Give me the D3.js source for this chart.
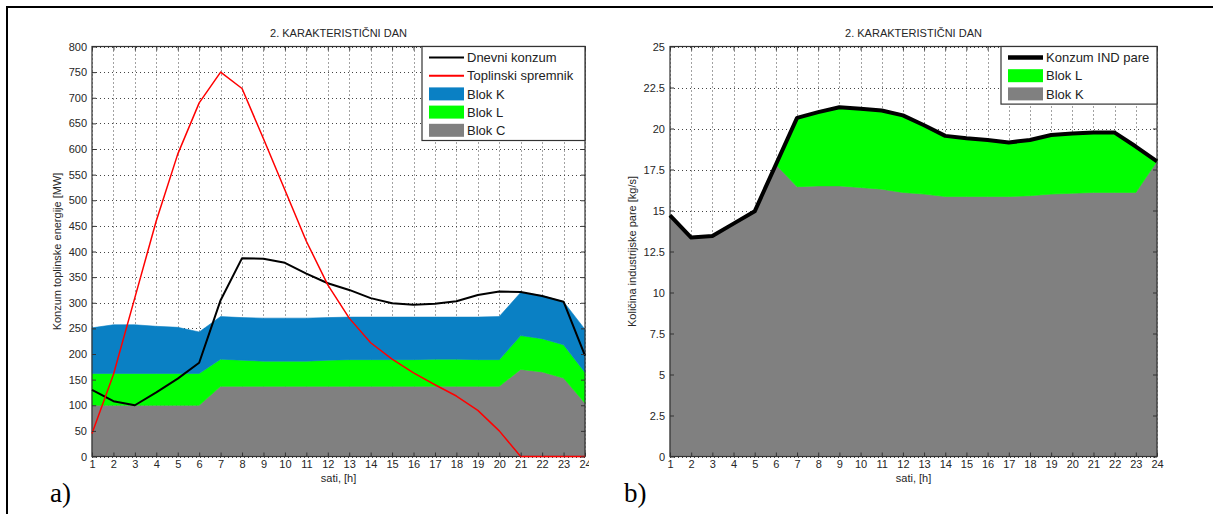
<!DOCTYPE html>
<html><head><meta charset="utf-8">
<script src="https://cdn.jsdelivr.net/npm/d3@7"></script>
<style>
html,body{margin:0;padding:0;background:#fff;}
svg{display:block;}
text{font-family:"Liberation Sans",Arial,sans-serif;}
</style></head>
<body>
<svg id="chart" width="1213" height="514"></svg>
<script>
// ---------- DATA ----------
const hours = [1,2,3,4,5,6,7,8,9,10,11,12,13,14,15,16,17,18,19,20,21,22,23,24];

// Panel a)
const dnevniKonzum = [130,108,100,125,152,183,305,387,386,378,357,338,325,309,299,296,298,303,315,322,321,313,302,197];
const toplinskiSpremnik = [45,160,310,460,590,690,750,718,620,520,420,335,270,222,190,163,140,118,90,50,0,0,0,0];
const blokC_a = [100,100,100,100,100,100,137,137,137,137,137,137,137,137,137,137,137,137,137,137,170,165,153,104];
const blokL_a = [62,62,62,62,62,62,53,51,49,49,49,51,52,52,52,52,53,53,52,52,66,65,65,60];
const blokK_a = [89,95,95,92,90,81,83,83,84,84,84,83,83,83,83,83,82,82,83,84,84,84,84,84];
const yTicksA = [0,50,100,150,200,250,300,350,400,450,500,550,600,650,700,750,800];

// Panel b)
const konzumIND = [14.7,13.35,13.45,14.2,14.95,17.8,20.65,21.0,21.3,21.2,21.1,20.8,20.2,19.55,19.4,19.3,19.15,19.3,19.6,19.7,19.75,19.75,18.9,18.0];
const blokK_b = [14.7,13.35,13.45,14.2,14.95,17.8,16.45,16.5,16.5,16.4,16.3,16.1,16.0,15.85,15.85,15.85,15.85,15.9,16.0,16.05,16.1,16.1,16.1,18.0];
const blokL_b = [0,0,0,0,0,0,4.2,4.5,4.8,4.8,4.8,4.7,4.2,3.7,3.55,3.45,3.3,3.4,3.6,3.65,3.65,3.65,2.8,0];
const yTicksB = [0,2.5,5,7.5,10,12.5,15,17.5,20,22.5,25];

const titleText = "2. KARAKTERISTIČNI DAN";
const xLabel = "sati, [h]";
const yLabelA = "Konzum toplinske energije [MW]";
const yLabelB = "Količina industrijske pare [kg/s]";

// ---------- STYLE ----------
const C_BLUE = "#0a80c4", C_GREEN = "#00ff00", C_GRAY = "#808080", C_RED = "#ff0000";
const TXT = "#262626";

const svg = d3.select("#chart");

// outer frame
svg.append("line").attr("x1",7).attr("x2",1213).attr("y1",7).attr("y2",7).attr("stroke","#000").attr("stroke-width",2);
svg.append("line").attr("x1",7).attr("x2",7).attr("y1",6).attr("y2",514).attr("stroke","#000").attr("stroke-width",2);

function panel(opts){
  const g = svg.append("g");
  if (opts.clipRight){
    const id = "clip"+Math.round(opts.clipRight);
    svg.append("clipPath").attr("id",id).append("rect").attr("x",0).attr("y",0).attr("width",opts.clipRight).attr("height",514);
    g.attr("clip-path","url(#"+id+")");
  }
  const x = d3.scaleLinear().domain([1,24]).range([opts.x0,opts.x1]);
  const y = d3.scaleLinear().domain([0,opts.ymax]).range([456.5,46.5]);

  // grid
  const grid = g.append("g").attr("stroke","#444").attr("stroke-width",1).attr("stroke-dasharray","1,3");
  grid.selectAll("line.v").data(hours).join("line")
    .attr("x1",d=>Math.round(x(d))+0.5).attr("x2",d=>Math.round(x(d))+0.5)
    .attr("y1",y(opts.ymax)).attr("y2",y(0));
  grid.selectAll("line.h").data(opts.yTicks).join("line")
    .attr("x1",x(1)).attr("x2",x(24))
    .attr("y1",d=>Math.round(y(d))+0.5).attr("y2",d=>Math.round(y(d))+0.5);

  // stacked areas
  const rows = hours.map((h,i)=>{ const r={h}; opts.stackKeys.forEach(k=>r[k.name]=k.values[i]); return r; });
  const stack = d3.stack().keys(opts.stackKeys.map(k=>k.name));
  const series = stack(rows);
  const area = d3.area().x(d=>x(d.data.h)).y0(d=>y(d[0])).y1(d=>y(d[1]));
  g.selectAll("path.area").data(series).join("path")
    .attr("d",area)
    .attr("fill",(d,i)=>opts.stackKeys[i].color)
    .attr("stroke",(d,i)=>opts.stackKeys[i].color).attr("stroke-width",0.6);

  // box
  g.append("rect").attr("x",x(1)).attr("y",y(opts.ymax)).attr("width",x(24)-x(1)).attr("height",y(0)-y(opts.ymax))
    .attr("fill","none").attr("stroke","#333").attr("stroke-width",1.2);

  // lines
  opts.lines.forEach(L=>{
    const line = d3.line().x((d,i)=>x(hours[i])).y(d=>y(d));
    g.append("path").attr("d",line(L.values)).attr("fill","none")
      .attr("stroke",L.color).attr("stroke-width",L.width).attr("stroke-linejoin","round");
  });

  // axes
  const axL = d3.axisLeft(y).tickValues(opts.yTicks).tickSizeInner(-4).tickSizeOuter(0).tickPadding(5).tickFormat(d=>String(d));
  const axB = d3.axisBottom(x).tickValues(hours).tickSizeInner(-4).tickSizeOuter(0).tickPadding(4).tickFormat(d=>String(d));
  const axT = d3.axisTop(x).tickValues(hours).tickSizeInner(-4).tickSizeOuter(0).tickFormat("");
  const axR = d3.axisRight(y).tickValues(opts.yTicks).tickSizeInner(-4).tickSizeOuter(0).tickFormat("");
  const styleAx = sel => { sel.select(".domain").remove(); sel.selectAll("line").attr("stroke","#333");
    sel.selectAll("text").attr("fill",TXT).style("font-size","11px").style("font-family","'Liberation Sans',Arial,sans-serif"); };
  g.append("g").attr("transform",`translate(${x(1)},0)`).call(axL).call(styleAx);
  g.append("g").attr("transform",`translate(0,${y(0)})`).call(axB).call(styleAx);
  g.append("g").attr("transform",`translate(0,${y(opts.ymax)})`).call(axT).call(styleAx);
  g.append("g").attr("transform",`translate(${x(24)},0)`).call(axR).call(styleAx);

  // title & labels
  const cx = (x(1)+x(24))/2;
  g.append("text").attr("x",cx).attr("y",37).attr("text-anchor","middle").attr("fill",TXT).style("font-size","11px").text(titleText);
  g.append("text").attr("x",cx).attr("y",482).attr("text-anchor","middle").attr("fill",TXT).style("font-size","11px").text(xLabel);
  g.append("text").attr("transform",`translate(${opts.yLabelX},${(y(0)+y(opts.ymax))/2}) rotate(-90)`)
    .attr("text-anchor","middle").attr("fill",TXT).style("font-size","11px").text(opts.yLabel);

  // legend
  const lg = g.append("g");
  const lx1 = x(24), lx0 = opts.legendX0, ly0 = y(opts.ymax);
  const rowH = 18.2;
  const lh = opts.legend.length*rowH + 3;
  lg.append("rect").attr("x",lx0).attr("y",ly0).attr("width",lx1-lx0).attr("height",lh)
    .attr("fill","#fff").attr("stroke","#333").attr("stroke-width",1.2);
  opts.legend.forEach((e,i)=>{
    const cy = ly0 + 11 + i*rowH;
    const sx0 = lx0+7, sx1 = lx0+42;
    if (e.type==="line"){
      lg.append("line").attr("x1",sx0).attr("x2",sx1).attr("y1",cy).attr("y2",cy).attr("stroke",e.color).attr("stroke-width",e.width);
    } else {
      lg.append("rect").attr("x",sx0).attr("y",cy-6.5).attr("width",sx1-sx0).attr("height",13).attr("fill",e.color);
    }
    lg.append("text").attr("x",sx1+3).attr("y",cy+4.6).attr("fill","#222").style("font-size","13px").text(e.label);
  });

  // panel letter
  svg.append("text").attr("x",opts.letterX).attr("y",502).attr("fill","#000")
    .style("font-family","'Liberation Serif','Times New Roman',serif").style("font-size","27px").text(opts.letter);
}

panel({
  x0:92, x1:585, ymax:800, yTicks:yTicksA, clipRight:589,
  stackKeys:[{name:"C",values:blokC_a,color:C_GRAY},{name:"L",values:blokL_a,color:C_GREEN},{name:"K",values:blokK_a,color:C_BLUE}],
  lines:[{values:dnevniKonzum,color:"#000",width:2},{values:toplinskiSpremnik,color:C_RED,width:1.5}],
  yLabel:yLabelA, yLabelX:61,
  legendX0:422,
  legend:[{type:"line",label:"Dnevni konzum",color:"#000",width:2},
          {type:"line",label:"Toplinski spremnik",color:C_RED,width:2},
          {type:"rect",label:"Blok K",color:C_BLUE},
          {type:"rect",label:"Blok L",color:C_GREEN},
          {type:"rect",label:"Blok C",color:C_GRAY}],
  letter:"a)", letterX:50
});

panel({
  x0:670, x1:1157, ymax:25, yTicks:yTicksB,
  stackKeys:[{name:"K",values:blokK_b,color:C_GRAY},{name:"L",values:blokL_b,color:C_GREEN}],
  lines:[{values:konzumIND,color:"#000",width:4}],
  yLabel:yLabelB, yLabelX:636,
  legendX0:1001,
  legend:[{type:"line",label:"Konzum IND pare",color:"#000",width:4.5},
          {type:"rect",label:"Blok L",color:C_GREEN},
          {type:"rect",label:"Blok K",color:C_GRAY}],
  letter:"b)", letterX:624
});
</script>
</body></html>
